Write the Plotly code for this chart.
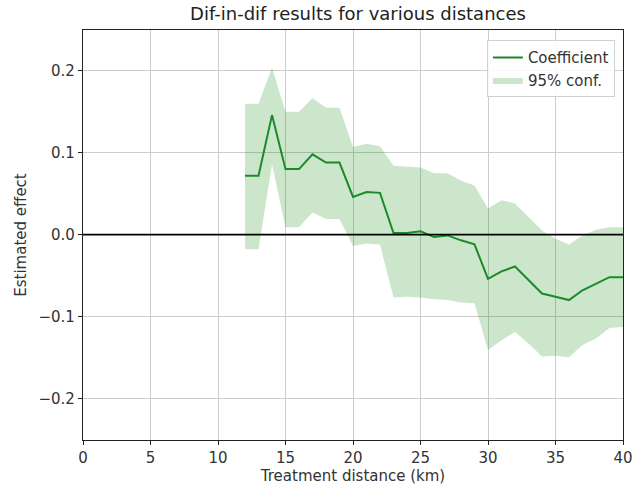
import plotly.graph_objects as go

distance = list(range(12, 41))
coef = [0.072, 0.072, 0.146, 0.080, 0.080, 0.098, 0.088, 0.088, 0.046, 0.052,
        0.051, 0.002, 0.002, 0.004, -0.003, -0.001, -0.007, -0.012, -0.054, -0.045,
        -0.039, -0.056, -0.072, -0.076, -0.080, -0.068, -0.060, -0.052, -0.052]
upper = [0.160, 0.160, 0.204, 0.150, 0.150, 0.167, 0.155, 0.155, 0.107, 0.111,
         0.108, 0.084, 0.083, 0.082, 0.075, 0.075, 0.066, 0.060, 0.032, 0.042,
         0.038, 0.022, 0.005, -0.005, -0.012, -0.001, 0.006, 0.009, 0.009]
lower = [-0.018, -0.018, 0.086, 0.009, 0.009, 0.027, 0.019, 0.019, -0.014, -0.011,
         -0.012, -0.077, -0.076, -0.077, -0.079, -0.080, -0.083, -0.084, -0.141, -0.129,
         -0.119, -0.133, -0.149, -0.148, -0.150, -0.135, -0.127, -0.114, -0.113]

x_ticks = [0, 5, 10, 15, 20, 25, 30, 35, 40]
y_ticks = [-0.2, -0.1, 0.0, 0.1, 0.2]

font = "DejaVu Sans"
txt = "#333333"

fig = go.Figure()
fig.add_trace(go.Scatter(
    x=distance + distance[::-1], y=upper + lower[::-1],
    fill="toself", fillcolor="rgba(0,128,0,0.2)", line=dict(width=0),
    mode="lines", name="95% conf.", legendrank=2, hoverinfo="skip"))
fig.add_trace(go.Scatter(
    x=distance, y=coef, mode="lines", name="Coefficient",
    line=dict(color="#1a8a2a", width=2), legendrank=1))

fig.add_shape(type="line", xref="paper", x0=0, x1=1, yref="y", y0=0, y1=0,
              line=dict(color="black", width=1.6), layer="above")

fig.update_layout(
    width=643, height=492,
    margin=dict(l=83, r=10, t=30, b=49),
    paper_bgcolor="white", plot_bgcolor="white",
    font=dict(family=font, size=15, color=txt),
    title=dict(text="Dif-in-dif results for various distances", x=(83 + 633) / 2 / 643,
               xanchor="center", y=1 - 14 / 492, yanchor="middle",
               font=dict(size=18, color="#222222")),
    showlegend=True,
    legend=dict(x=0.985, y=0.975, xanchor="right", yanchor="top",
                bgcolor="rgba(255,255,255,0.85)", bordercolor="#d0d0d0", borderwidth=1,
                font=dict(size=15, color=txt), tracegroupgap=0, itemwidth=30),
)
fig.update_xaxes(
    range=[0, 40], tickvals=x_ticks, showgrid=True, gridcolor="#cccccc", gridwidth=1,
    showline=True, linecolor="#222222", linewidth=1.2, mirror=True,
    ticks="outside", ticklen=4, tickcolor="#222222", zeroline=False,
    title=dict(text="Treatment distance (km)", font=dict(size=15, color=txt), standoff=4),
)
fig.update_yaxes(
    range=[-0.251, 0.25], tickvals=y_ticks, tickformat=".1f",
    showgrid=True, gridcolor="#cccccc", gridwidth=1,
    showline=True, linecolor="#222222", linewidth=1.2, mirror=True,
    ticks="outside", ticklen=4, tickcolor="#222222", zeroline=False,
    title=dict(text="Estimated effect", font=dict(size=15, color=txt), standoff=8),
)

fig.write_html("out.html")
